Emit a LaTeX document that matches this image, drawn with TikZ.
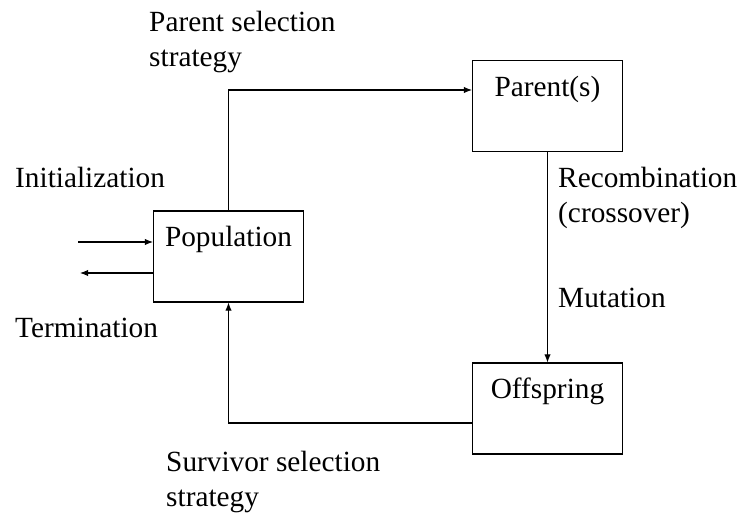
\documentclass[tikz,border=0pt]{standalone}
\usepackage{fontspec}
\setmainfont{Liberation Serif}
\usetikzlibrary{positioning, arrows, arrows.meta}
\tikzset{%
  x=0.03cm, y=-0.03cm,
  every node/.style={font=\fontsize{25}{30.2}\selectfont},
  box/.style={draw, rectangle, minimum width=4.5cm, minimum height=2.73cm,
    text height=17pt, text depth=33.5pt, inner sep=0pt, line width=0.9pt},
  tag/.style={anchor=west, align=left, inner sep=0pt},
  flow/.style={draw, -{Latex[length=7pt,width=5.5pt]}, line width=0.9pt}
}

\begin{document}
\begin{tikzpicture}
    \useasboundingbox (0,0) rectangle (738,513);

    \node[box] (pop) at (228.5,256.5) {Population};
    \node[box] (par) at (547.5,106) {Parent(s)};
    \node[box] (off) at (547.5,408.5) {Offspring};

    \coordinate (init) at (78,242);
    \coordinate (term) at (80,273);

    \node[tag] (parsel) at (149,42) {Parent selection\\strategy};
    \node[tag] (inittag) at (15,177) {Initialization};
    \node[tag] (termtag) at (15,328) {Termination};
    \node[tag] (recomb) at (558,198) {Recombination\\(crossover)};
    \node[tag] (mut) at (558,298) {Mutation};
    \node[tag] (survsel) at (166,482) {Survivor selection\\strategy};

    \draw[flow] (pop.north) |- ([yshift=0.48cm]par.west);
    \draw[flow] (par) -- (off);
    \draw[flow] ([yshift=-0.435cm]off.west) -| (pop.south);
    \draw[flow] (init) -- (init -| pop.west);
    \draw[flow] (term -| pop.west) -- (term);

\end{tikzpicture}
\end{document}
